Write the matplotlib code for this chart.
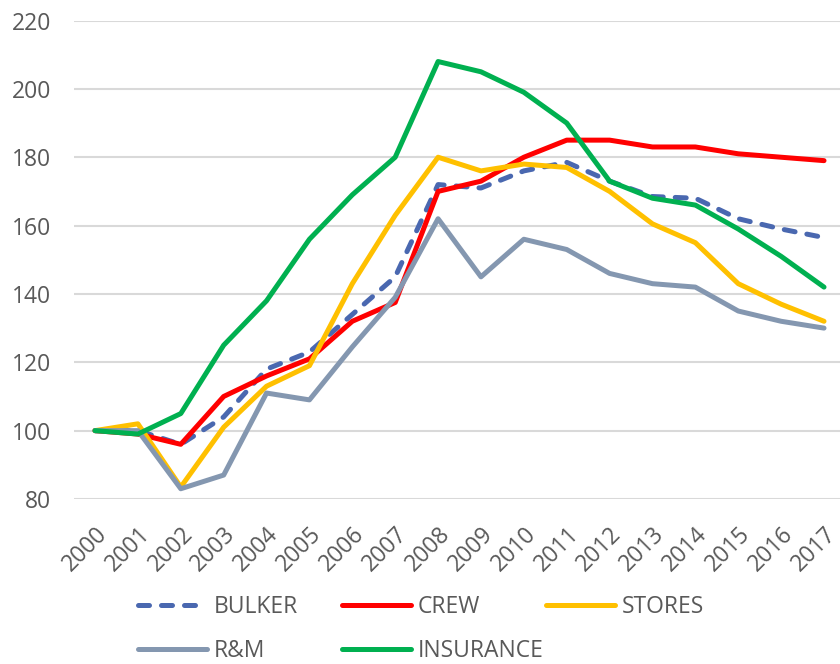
import matplotlib
matplotlib.use("Agg")
import matplotlib.pyplot as plt

# === DATA ===
years = [str(y) for y in range(2000, 2018)]
bulker = [100, 100, 96, 104, 118, 123, 134, 145, 172, 171, 176, 178.5, 173, 168.5, 168, 162, 159, 156.5]
crew = [100, 99, 96, 110, 116, 121, 132, 137.5, 170, 173, 180, 185, 185, 183, 183, 181, 180, 179]
stores = [100, 102, 83.5, 101, 113, 119, 143, 163, 180, 176, 178, 177, 170, 160.5, 155, 143, 137, 132]
rm = [100, 100, 83, 87, 111, 109, 124.5, 139, 162, 145, 156, 153, 146, 143, 142, 135, 132, 130]
insurance = [100, 99, 105, 125, 138, 156, 169, 180, 208, 205, 199, 190, 173, 168, 166, 159, 151, 142]
y_ticks = [80, 100, 120, 140, 160, 180, 200, 220]

# === STYLE ===
plt.rcParams['font.family'] = ['Open Sans', 'DejaVu Sans']
text_color = '#595959'
fs = 16.5

fig = plt.figure(figsize=(8.4, 6.64), dpi=100)
ax = fig.add_axes([0.0876, 0.2485, 0.9189, 0.7206])

x = range(len(years))
series = [
    ('BULKER', bulker, '#4A68B0', '--'),
    ('CREW', crew, '#FF0000', '-'),
    ('STORES', stores, '#FFC000', '-'),
    ('R&M', rm, '#8497B0', '-'),
    ('INSURANCE', insurance, '#00B050', '-'),
]

lines = []
for label, vals, color, ls in series:
    ln, = ax.plot(x, vals, color=color, lw=3.6, ls=ls, label=label,
                  solid_joinstyle='round', solid_capstyle='round',
                  dash_capstyle='round', dash_joinstyle='round')
    if ls == '--':
        ln.set_dashes((2.2, 2.4))
    lines.append(ln)

ax.set_xlim(-0.5, len(years) - 0.5)
ax.set_ylim(80, 220)
ax.set_yticks(y_ticks)
ax.set_xticks(list(x))
ax.set_xticklabels(years, rotation=45, ha='right', va='top', rotation_mode='anchor')
ax.tick_params(axis='both', length=0, labelsize=fs, colors=text_color)
ax.tick_params(axis='y', pad=16)
ax.tick_params(axis='x', pad=17)
ax.grid(axis='y', color='#D9D9D9', lw=1.5)
ax.set_axisbelow(True)
for s in ax.spines.values():
    s.set_visible(False)

# === LEGEND (Excel-style fixed columns) ===
legend_slots = [(0.164, 0.086), (0.407, 0.086), (0.650, 0.086),
                (0.164, 0.020), (0.407, 0.020)]
for ln, (lx, ly) in zip(lines, legend_slots):
    leg = fig.legend([ln], [ln.get_label()], loc='center left',
                     bbox_to_anchor=(lx, ly), frameon=False, fontsize=fs,
                     borderpad=0, borderaxespad=0, handlelength=3.0,
                     handletextpad=0.3)
    for t in leg.get_texts():
        t.set_color(text_color)

fig.savefig('out.png', dpi=100)
